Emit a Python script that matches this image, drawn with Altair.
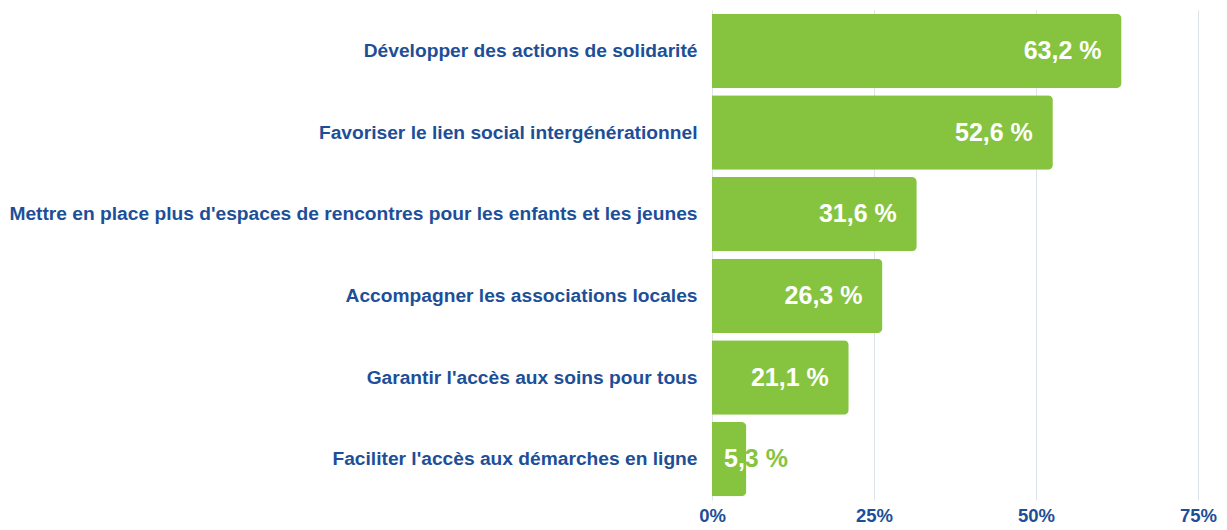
import altair as alt
import pandas as pd

categories = [
    "Développer des actions de solidarité",
    "Favoriser le lien social intergénérationnel",
    "Mettre en place plus d'espaces de rencontres pour les enfants et les jeunes",
    "Accompagner les associations locales",
    "Garantir l'accès aux soins pour tous",
    "Faciliter l'accès aux démarches en ligne",
]
values = [63.2, 52.6, 31.6, 26.3, 21.1, 5.3]
x_ticks = [0, 25, 50, 75]

df = pd.DataFrame({"cat": categories, "val": values})
df["label"] = [f"{v:.1f}".replace(".", ",") + " %" for v in values]
df["inside"] = df["val"] >= 10
df["prefix"] = df["label"].str[:2]

BLUE = "#1d4f98"
GREEN = "#86c440"
FONT = "Liberation Sans"

y = alt.Y(
    "cat:N", sort=categories, title=None,
    scale=alt.Scale(paddingInner=0.09, paddingOuter=0.045),
    axis=alt.Axis(labelFont=FONT, labelFontSize=19.2, labelFontWeight="bold",
                  labelColor=BLUE, ticks=False, domain=False, labelPadding=15,
                  minExtent=703, maxExtent=703, labelLimit=0),
)
x = alt.X(
    "val:Q", title=None,
    scale=alt.Scale(domain=[0, 75], nice=False),
    axis=alt.Axis(values=x_ticks, labelExpr="datum.value + '%'", ticks=False,
                  domain=False, labelFont=FONT, labelFontSize=18.5,
                  labelFontWeight="bold", labelColor=BLUE, labelPadding=6,
                  labelFlush=False, gridColor="#dde3ea", gridWidth=1),
)
ysimple = alt.Y("cat:N", sort=categories)

base = alt.Chart(df)
bars = base.mark_bar(color=GREEN, cornerRadiusEnd=5).encode(x=x, y=y)

txt = dict(fontSize=25, fontWeight="bold", font=FONT)
inside_text = base.transform_filter("datum.inside").mark_text(
    align="right", dx=-20, color="white", **txt
).encode(x="val:Q", y=ysimple, text="label:N")
outside_text = base.transform_filter("!datum.inside").mark_text(
    align="left", dx=12, color=GREEN, **txt
).encode(x=alt.datum(0), y=ysimple, text="label:N")
outside_prefix = base.transform_filter("!datum.inside").mark_text(
    align="left", dx=12, color="white", **txt
).encode(x=alt.datum(0), y=ysimple, text="prefix:N")

chart = (
    alt.layer(bars, inside_text, outside_text, outside_prefix)
    .properties(width=486, height=490,
                padding={"left": 0, "top": 2, "right": 0, "bottom": 0},
                background="white")
    .configure_view(stroke=None)
)

chart.save("out.html", embed_options={"renderer": "svg", "actions": False})
